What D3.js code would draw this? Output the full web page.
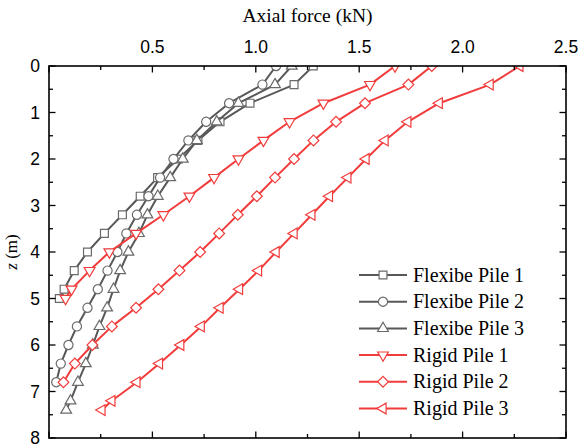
<!DOCTYPE html>
<html>
<head>
<meta charset="utf-8">
<script src="https://cdn.jsdelivr.net/npm/d3@7"></script>
<style>
  html, body { margin: 0; padding: 0; background: #fff; }
  svg { display: block; }
</style>
</head>
<body>
<svg id="chart" width="581" height="447"></svg>
<script>
// Depth (m) at which the axial force was measured along each pile
const depthPile1 = [0, 0.4, 0.8, 1.2, 1.6, 2.0, 2.4, 2.8, 3.2, 3.6, 4.0, 4.4, 4.8, 5.0];
const depthPile2 = [0, 0.4, 0.8, 1.2, 1.6, 2.0, 2.4, 2.8, 3.2, 3.6, 4.0, 4.4, 4.8, 5.2, 5.6, 6.0, 6.4, 6.8];
const depthPile3 = [0, 0.4, 0.8, 1.2, 1.6, 2.0, 2.4, 2.8, 3.2, 3.6, 4.0, 4.4, 4.8, 5.2, 5.6, 6.0, 6.4, 6.8, 7.2, 7.4];

// Axial force (kN)
const flexPile1 = [1.278, 1.185, 0.972, 0.827, 0.720, 0.625, 0.525, 0.441, 0.355, 0.268, 0.186, 0.122, 0.073, 0.050];
const flexPile2 = [1.098, 1.032, 0.871, 0.760, 0.674, 0.602, 0.537, 0.481, 0.425, 0.374, 0.331, 0.283, 0.236, 0.186, 0.135, 0.094, 0.057, 0.035];
const flexPile3 = [1.174, 1.093, 0.916, 0.811, 0.715, 0.647, 0.586, 0.526, 0.476, 0.435, 0.384, 0.344, 0.312, 0.281, 0.244, 0.212, 0.178, 0.140, 0.104, 0.083];
const rigidPile1 = [1.673, 1.552, 1.327, 1.163, 1.037, 0.916, 0.798, 0.679, 0.553, 0.421, 0.292, 0.196, 0.109, 0.080];
const rigidPile2 = [1.851, 1.738, 1.528, 1.388, 1.279, 1.185, 1.093, 1.005, 0.913, 0.823, 0.731, 0.631, 0.529, 0.421, 0.304, 0.210, 0.125, 0.070];
const rigidPile3 = [2.277, 2.133, 1.887, 1.735, 1.625, 1.533, 1.445, 1.356, 1.271, 1.185, 1.098, 1.013, 0.921, 0.827, 0.736, 0.637, 0.534, 0.425, 0.304, 0.256];

const seriesNames = ["Flexibe Pile 1", "Flexibe Pile 2", "Flexibe Pile 3", "Rigid Pile 1", "Rigid Pile 2", "Rigid Pile 3"];
const xTickValues = [0.5, 1.0, 1.5, 2.0, 2.5];
const xTickLabels = ["0.5", "1.0", "1.5", "2.0", "2.5"];
const yTickValues = [0, 1, 2, 3, 4, 5, 6, 7, 8];

const GRAY = "#585858";
const GRAY_MARK = "#6a6a6a";
const RED = "#f23b3b";

const series = [
  { name: seriesNames[0], z: depthPile1, f: flexPile1, line: GRAY, stroke: GRAY_MARK, shape: "square" },
  { name: seriesNames[1], z: depthPile2, f: flexPile2, line: GRAY, stroke: GRAY_MARK, shape: "circle" },
  { name: seriesNames[2], z: depthPile3, f: flexPile3, line: GRAY, stroke: GRAY_MARK, shape: "triUp" },
  { name: seriesNames[3], z: depthPile1, f: rigidPile1, line: RED, stroke: RED, shape: "triDown" },
  { name: seriesNames[4], z: depthPile2, f: rigidPile2, line: RED, stroke: RED, shape: "diamond" },
  { name: seriesNames[5], z: depthPile3, f: rigidPile3, line: RED, stroke: RED, shape: "triLeft" }
];

const margin = { left: 49, top: 66, right: 15, bottom: 9 };
const W = 581, H = 447;
const innerW = W - margin.left - margin.right;
const innerH = H - margin.top - margin.bottom;

const svg = d3.select("#chart");
const g = svg.append("g").attr("transform", `translate(${margin.left},${margin.top})`);

const x = d3.scaleLinear().domain([0, 2.5]).range([0, innerW]);
const y = d3.scaleLinear().domain([0, 8]).range([0, innerH]);

// Marker symbol generators
const symbolFor = {
  square:  { type: d3.symbolSquare,   size: 62, rotate: 0 },
  circle:  { type: d3.symbolCircle,   size: 66, rotate: 0 },
  triUp:   { type: d3.symbolTriangle, size: 50, rotate: 0 },
  triDown: { type: d3.symbolTriangle, size: 50, rotate: 180 },
  diamond: { type: d3.symbolSquare,   size: 58, rotate: 45 },
  triLeft: { type: d3.symbolTriangle, size: 50, rotate: -90 }
};
function markerPath(shape) {
  const s = symbolFor[shape];
  return d3.symbol().type(s.type).size(s.size)();
}

// Clip the data to the plotting frame
svg.append("defs").append("clipPath").attr("id", "plotClip")
  .append("rect").attr("x", 0).attr("y", 0).attr("width", innerW).attr("height", innerH);

const plot = g.append("g").attr("clip-path", "url(#plotClip)");

const lineGen = d3.line().x(d => x(d[0])).y(d => y(d[1]));

series.forEach(s => {
  const pts = s.f.map((v, i) => [v, s.z[i]]);
  const sg = plot.append("g");
  sg.append("path").datum(pts)
    .attr("d", lineGen)
    .attr("fill", "none")
    .attr("stroke", s.line)
    .attr("stroke-width", 2)
    .attr("stroke-linejoin", "round");
  sg.selectAll("path.mk").data(pts).join("path")
    .attr("class", "mk")
    .attr("d", markerPath(s.shape))
    .attr("transform", d => `translate(${x(d[0])},${y(d[1])}) rotate(${symbolFor[s.shape].rotate})`)
    .attr("fill", "#fff")
    .attr("stroke", s.stroke)
    .attr("stroke-width", 1.2);
});

// Axes: ticks pointing into the frame on all four sides
const tickFont = "'Liberation Sans', Arial, sans-serif";
const serif = "'Liberation Serif', 'Times New Roman', serif";

const xMinor = d3.range(0, 2.5001, 0.25);
const yMinor = d3.range(0, 8.0001, 0.5);

function isMajorX(v) { return Math.abs(v * 2 - Math.round(v * 2)) < 1e-6; }
function isMajorY(v) { return Math.abs(v - Math.round(v)) < 1e-6; }

const axes = g.append("g").attr("stroke", "#000");
// top and bottom ticks
xMinor.forEach(v => {
  const len = isMajorX(v) ? 6.5 : 4;
  axes.append("line").attr("x1", x(v)).attr("x2", x(v)).attr("y1", 0).attr("y2", len).attr("stroke-width", 1.3);
  axes.append("line").attr("x1", x(v)).attr("x2", x(v)).attr("y1", innerH).attr("y2", innerH - len).attr("stroke-width", 1.3);
});
// left and right ticks
yMinor.forEach(v => {
  const len = isMajorY(v) ? 6.5 : 4;
  axes.append("line").attr("x1", 0).attr("x2", len).attr("y1", y(v)).attr("y2", y(v)).attr("stroke-width", 1.3);
  axes.append("line").attr("x1", innerW).attr("x2", innerW - len).attr("y1", y(v)).attr("y2", y(v)).attr("stroke-width", 1.3);
});
axes.append("rect").attr("x", 0).attr("y", 0).attr("width", innerW).attr("height", innerH)
  .attr("fill", "none").attr("stroke-width", 1.6);

// Tick labels
g.selectAll("text.xt").data(xTickValues).join("text")
  .attr("class", "xt")
  .attr("x", d => x(d)).attr("y", -13)
  .attr("text-anchor", "middle")
  .attr("font-family", tickFont).attr("font-size", 17.5)
  .text((d, i) => xTickLabels[i]);

g.selectAll("text.yt").data(yTickValues).join("text")
  .attr("class", "yt")
  .attr("x", -9).attr("y", d => y(d))
  .attr("dy", "0.36em")
  .attr("text-anchor", "end")
  .attr("font-family", tickFont).attr("font-size", 17.5)
  .text(d => d);

// Axis titles
svg.append("text")
  .attr("x", margin.left + innerW / 2).attr("y", 22)
  .attr("text-anchor", "middle")
  .attr("font-family", serif).attr("font-size", 19.5)
  .text("Axial force (kN)");

const yt = svg.append("text")
  .attr("transform", `translate(17,${margin.top + innerH / 2}) rotate(-90)`)
  .attr("text-anchor", "middle")
  .attr("font-family", serif).attr("font-size", 17);
yt.append("tspan").attr("font-style", "italic").text("z");
yt.append("tspan").text(" (m)");

// Legend
const legend = svg.append("g").attr("transform", "translate(359,275)");
series.forEach((s, i) => {
  const row = legend.append("g").attr("transform", `translate(0,${i * 26.7})`);
  row.append("line").attr("x1", 0).attr("x2", 48).attr("y1", 0).attr("y2", 0)
    .attr("stroke", s.line).attr("stroke-width", 2);
  row.append("path").attr("d", markerPath(s.shape))
    .attr("transform", `translate(24,0) rotate(${symbolFor[s.shape].rotate})`)
    .attr("fill", "#fff").attr("stroke", s.stroke).attr("stroke-width", 1.2);
  row.append("text").attr("x", 54).attr("y", 0).attr("dy", "0.33em")
    .attr("font-family", serif).attr("font-size", 20)
    .text(s.name);
});
</script>
</body>
</html>
